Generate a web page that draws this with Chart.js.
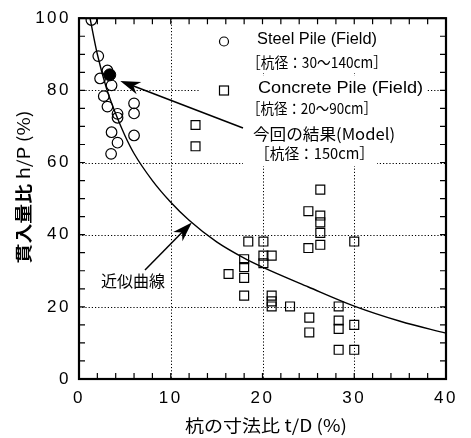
<!DOCTYPE html>
<html lang="ja">
<head>
<meta charset="UTF-8" />
<title>貫入量比 h/P と杭の寸法比 t/D</title>
<script src="https://cdn.jsdelivr.net/npm/chart.js"></script>
<style>
	html, body { margin: 0; padding: 0; background: #fff; }
	#wrap { width: 471px; height: 438px; }
</style>
</head>
<body>
<div id="wrap"><canvas id="chart" width="471" height="438"></canvas></div>
<script>
// Steel Pile (Field) - open circles
const steelX = [1.35, 2.1, 3.1, 2.3, 3.55, 2.7, 3.1, 4.2, 4.2, 6.0, 6.0, 6.0, 3.55, 4.2, 3.5];
const steelY = [99.5, 89.5, 85.5, 83.3, 81.4, 78.4, 75.5, 73.5, 72.4, 76.4, 73.6, 67.5, 68.4, 65.5, 62.4];

// Concrete Pile (Field) - open squares
const concX = [12.7, 12.7, 26.3, 25.0, 26.3, 26.3, 26.3, 26.3, 25.0, 30.0, 18.45, 20.1, 18.0, 18.0, 20.1, 21.0,
	20.1, 16.3, 18.0, 18.0, 21.0, 21.0, 21.0, 23.0, 28.3, 25.1, 25.1, 28.3, 28.3, 30.0, 28.3, 30.0];
const concY = [70.4, 64.5, 52.5, 46.5, 45.3, 43.4, 40.5, 37.2, 36.3, 38.1, 38.1, 38.1, 33.2, 31.0, 34.2, 34.2,
	32.1, 29.1, 28.0, 23.1, 23.1, 21.5, 20.1, 20.1, 20.1, 17.0, 12.9, 16.2, 13.9, 15.0, 8.1, 8.1];

// 今回の結果 (Model)
const modelX = [3.35];
const modelY = [84.3];

// 近似曲線
const curveX = [1.2, 2, 3, 4, 5, 6, 8, 10, 12, 15, 18, 20, 25, 30, 35, 40];
const curveY = [100, 90, 80.5, 73.5, 67.5, 62.5, 55, 49, 44, 38, 33.5, 31, 25.5, 20.2, 16, 12.7];

const xTicks = [0, 10, 20, 30, 40];
const yTicks = [0, 20, 40, 60, 80, 100];

const pts = (xs, ys) => xs.map((x, i) => ({ x: x, y: ys[i] }));

const JP = '"Noto Sans CJK JP", sans-serif';
const EN = '"Liberation Sans", Arial, sans-serif';

function fitText(ctx, text, x, y, w, font) {
	ctx.font = font;
	const m = ctx.measureText(text).width;
	ctx.save();
	ctx.translate(x, y);
	ctx.scale(w / m, 1);
	ctx.fillText(text, 0, 0);
	ctx.restore();
}

function arrow(ctx, x0, y0, x1, y1) {
	const a = Math.atan2(y1 - y0, x1 - x0);
	const len = 20, hw = 6.5;
	ctx.beginPath();
	ctx.moveTo(x0, y0);
	ctx.lineTo(x1 - Math.cos(a) * 10, y1 - Math.sin(a) * 10);
	ctx.stroke();
	ctx.save();
	ctx.translate(x1, y1);
	ctx.rotate(a);
	ctx.beginPath();
	ctx.moveTo(0, 0);
	ctx.lineTo(-len, -hw);
	ctx.lineTo(-len * 0.7, 0);
	ctx.lineTo(-len, hw);
	ctx.closePath();
	ctx.fill();
	ctx.restore();
}

const paper = {
	id: 'paper',
	beforeDraw(chart) {
		chart.ctx.letterSpacing = '2.5px';
	},
	beforeDatasetsDraw(chart) {
		const { ctx, chartArea: a, scales: { x, y } } = chart;
		ctx.save();
		ctx.letterSpacing = '0px';
		ctx.strokeStyle = '#000';
		ctx.lineWidth = 1;
		ctx.setLineDash([1.2, 2]);
		[10, 20, 30].forEach(v => {
			const px = Math.round(x.getPixelForValue(v)) + 0.5;
			ctx.beginPath(); ctx.moveTo(px, a.top); ctx.lineTo(px, a.bottom); ctx.stroke();
		});
		[20, 40, 60, 80].forEach(v => {
			const py = Math.round(y.getPixelForValue(v)) + 0.5;
			ctx.beginPath(); ctx.moveTo(a.left, py); ctx.lineTo(a.right, py); ctx.stroke();
		});
		ctx.setLineDash([]);
		// white legend background
		ctx.fillStyle = '#fff';
		ctx.fillRect(200, a.top, a.right - 200, 55);
		ctx.fillRect(200, 76, 226, 42);
		ctx.fillRect(243, 118, 134, 48);
		ctx.restore();
	},
	afterDatasetsDraw(chart) {
		const { ctx, chartArea: a, scales: { x, y } } = chart;
		ctx.save();
		ctx.letterSpacing = '0px';
		ctx.strokeStyle = '#000';
		ctx.fillStyle = '#000';

		// minor / major tick marks on all four sides
		ctx.lineWidth = 1.2;
		ctx.beginPath();
		for (let v = 0; v <= 40; v += 2) {
			const px = x.getPixelForValue(v);
			ctx.moveTo(px, a.bottom); ctx.lineTo(px, a.bottom - 6);
			ctx.moveTo(px, a.top); ctx.lineTo(px, a.top + 6);
		}
		for (let v = 0; v <= 100; v += 5) {
			const py = y.getPixelForValue(v);
			ctx.moveTo(a.left, py); ctx.lineTo(a.left + 6, py);
			ctx.moveTo(a.right, py); ctx.lineTo(a.right - 6, py);
		}
		ctx.stroke();

		// frame
		ctx.lineWidth = 2.2;
		ctx.strokeRect(a.left, a.top, a.right - a.left, a.bottom - a.top);

		// legend
		ctx.lineWidth = 1.2;
		ctx.beginPath(); ctx.arc(224, 41.5, 4.5, 0, Math.PI * 2); ctx.stroke();
		ctx.strokeRect(219.5, 86, 9, 9);

		ctx.textBaseline = 'middle';
		ctx.textAlign = 'left';
		fitText(ctx, 'Steel Pile (Field)', 257, 40, 120, '16px ' + EN);
		fitText(ctx, '［杭径：30～140cm］', 247, 62, 140, '15px ' + JP);
		fitText(ctx, 'Concrete Pile (Field)', 258, 89, 165, '16px ' + EN);
		fitText(ctx, '［杭径：20～90cm］', 247, 108, 130, '15px ' + JP);
		fitText(ctx, '今回の結果(Model)', 253, 134, 142, '16px ' + JP);
		fitText(ctx, '［杭径：150cm］', 255, 153, 119, '15px ' + JP);
		fitText(ctx, '近似曲線', 101, 281, 64, '16px ' + JP);

		// arrows
		ctx.lineWidth = 1.5;
		arrow(ctx, 243, 128, x.getPixelForValue(4.5), y.getPixelForValue(82.6));
		arrow(ctx, 145, 270, x.getPixelForValue(12.3), y.getPixelForValue(43.4));

		// axis titles
		ctx.textAlign = 'left';
		fitText(ctx, '杭の寸法比 t/D (%)', 185, 426, 162, '17px ' + JP);
		ctx.translate(24, 187);
		ctx.rotate(-Math.PI / 2);
		ctx.font = 'bold 17px ' + JP;
		const w1 = ctx.measureText('貫入量比').width;
		ctx.font = '17px ' + JP;
		const w2 = ctx.measureText(' h/P (%)').width;
		const s = 153 / (w1 + w2);
		ctx.scale(s, 1);
		const x0 = -(w1 + w2) / 2;
		ctx.font = 'bold 17px ' + JP;
		ctx.fillText('貫入量比', x0, 0);
		ctx.font = '17px ' + JP;
		ctx.fillText(' h/P (%)', x0 + w1, 0);
		ctx.restore();
	}
};

new Chart(document.getElementById('chart'), {
	type: 'scatter',
	data: {
		datasets: [
			{
				label: '今回の結果(Model)',
				data: pts(modelX, modelY),
				pointStyle: 'circle',
				pointRadius: 6,
				pointBorderWidth: 1,
				pointBorderColor: '#000',
				pointBackgroundColor: '#000'
			},
			{
				label: 'Steel Pile (Field)',
				data: pts(steelX, steelY),
				pointStyle: 'circle',
				pointRadius: 5.3,
				pointBorderWidth: 1.2,
				pointBorderColor: '#000',
				pointBackgroundColor: 'rgba(0,0,0,0)'
			},
			{
				label: 'Concrete Pile (Field)',
				data: pts(concX, concY),
				pointStyle: 'rect',
				pointRadius: 6.3,
				pointBorderWidth: 1.2,
				pointBorderColor: '#000',
				pointBackgroundColor: 'rgba(0,0,0,0)'
			},
			{
				label: '近似曲線',
				data: pts(curveX, curveY),
				showLine: true,
				cubicInterpolationMode: 'monotone',
				borderColor: '#000',
				borderWidth: 1.4,
				pointRadius: 0
			}
		]
	},
	options: {
		responsive: false,
		animation: false,
		layout: { padding: { top: 17, right: 25, left: 0, bottom: 0 } },
		plugins: { legend: { display: false }, tooltip: { enabled: false } },
		scales: {
			x: {
				type: 'linear',
				min: 0,
				max: 40,
				afterBuildTicks: s => { s.ticks = xTicks.map(v => ({ value: v })); },
				afterFit: s => { s.height = 59; },
				ticks: { color: '#000', padding: 9, font: { family: EN, size: 17 }, maxRotation: 0 },
				grid: { display: false, drawTicks: false },
				border: { display: false }
			},
			y: {
				min: 0,
				max: 100,
				afterBuildTicks: s => { s.ticks = yTicks.map(v => ({ value: v })); },
				afterFit: s => { s.width = 79; },
				ticks: { color: '#000', padding: 8, font: { family: EN, size: 17 } },
				grid: { display: false, drawTicks: false },
				border: { display: false }
			}
		}
	},
	plugins: [paper]
});
</script>
</body>
</html>
